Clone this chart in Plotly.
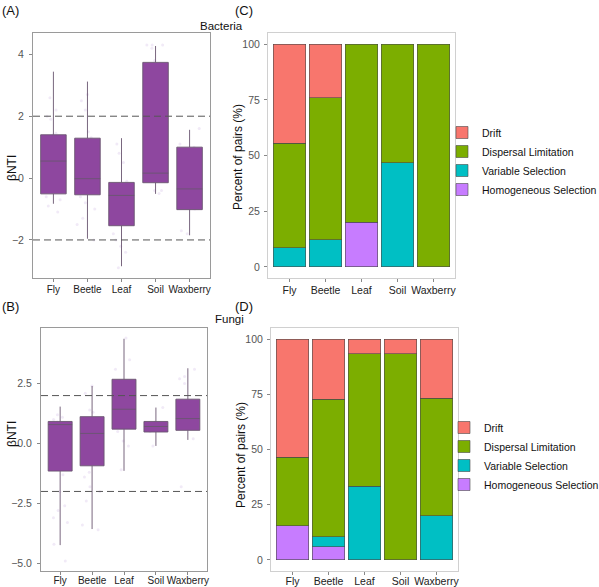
import plotly.graph_objects as go

CATS = ["Fly", "Beetle", "Leaf", "Soil", "Waxberry"]

# ---- Bacteria betaNTI box statistics ----
BAC_Q1 = [-0.51, -0.54, -1.54, -0.15, -1.02]
BAC_MED = [0.55, -0.02, -0.56, 0.16, -0.35]
BAC_Q3 = [1.40, 1.29, -0.14, 3.74, 1.00]
BAC_LO = [-0.83, -1.96, -2.85, -0.51, -1.85]
BAC_HI = [3.44, 3.12, 1.29, 4.27, 1.56]

# faint raw points (Bacteria)
BAC_PTS_FLY = [2.6, 2.2, 2.0, 1.9, 1.45, 1.4, 0.9, 0.1, -0.6, -0.7, -0.9, -1.1]
BAC_PTS_BEETLE = [2.7, 2.5, 2.2, 1.5, 1.3, 0.9, -0.5, -0.6, -0.8, -1.0, -1.3, -1.5, -2.0]
BAC_PTS_LEAF = [1.1, 0.8, 0.5, -0.1, -0.5, -1.5, -1.8, -2.0, -2.2, -2.4, -2.9]
BAC_PTS_SOIL = [4.3, 4.3, 4.2, 4.3, 3.8, 2.0, 0.1, -0.4, -0.5, -0.4]
BAC_PTS_WAX = [1.6, 1.1, 1.0, 0.9, -0.3, -1.0, -1.7, -1.8]

# ---- Fungi betaNTI box statistics ----
FUN_Q1 = [-1.15, -0.93, 0.60, 0.48, 0.55]
FUN_MED = [0.79, 0.42, 1.43, 0.71, 1.04]
FUN_Q3 = [0.92, 1.12, 2.68, 0.92, 1.85]
FUN_LO = [-4.24, -3.57, -1.14, -0.10, 0.15]
FUN_HI = [1.54, 2.40, 4.37, 1.50, 3.14]

FUN_PTS_FLY = [1.2, 1.1, 1.0, 0.9, -1.3, -2.0, -2.6, -2.8, -3.1, -3.3, -4.2, -4.9]
FUN_PTS_BEETLE = [2.4, 2.1, 1.4, 1.3, 0.6, -0.8, -1.2, -1.4, -1.8, -2.0, -2.4, -3.4, -3.6]
FUN_PTS_LEAF = [4.4, 3.5, 3.1, 2.2, 1.9, 0.5, 0.1, -0.1, -1.1]
FUN_PTS_SOIL = [1.5, 0.9, 0.8, 0.5, -0.1]
FUN_PTS_WAX = [3.1, 2.8, 2.7, 2.5, 0.9, 0.2, -1.8]

THRESHOLDS = [2, -2]

# ---- Percent of pairs by process ----
PROCESSES = ["Homogeneous Selection", "Variable Selection", "Dispersal Limitation", "Drift"]
PROC_COLORS = ["#C77CFF", "#00BFC4", "#7CAE00", "#F8766D"]

BAC_HOMO = [0, 0, 20.0, 0, 0]
BAC_VAR = [8.6, 12.1, 0, 46.7, 0]
BAC_DISP = [47.0, 63.8, 80.0, 53.3, 100.0]
BAC_DRIFT = [44.4, 24.1, 0, 0, 0]

FUN_HOMO = [15.4, 6.0, 0, 0, 0]
FUN_VAR = [0, 4.6, 33.3, 0, 20.0]
FUN_DISP = [31.1, 62.1, 60.0, 93.3, 53.3]
FUN_DRIFT = [53.5, 27.3, 6.7, 6.7, 26.7]

BOX_FILL = "#8E479F"
FONT = "Liberation Sans, Arial, sans-serif"

W, H = 599, 587


def px_x(v):
    return v / W


def px_y(v):
    return 1 - v / H


fig = go.Figure()


def add_box_panel(xa, ya, q1, med, q3, lo, hi, pts_lists):
    xs, ys = [], []
    for cat, pts in zip(CATS, pts_lists):
        xs += [cat] * len(pts)
        ys += pts
    fig.add_trace(go.Box(
        x=xs, y=ys, xaxis=xa, yaxis=ya, boxpoints="all", jitter=0.8, pointpos=0,
        fillcolor="rgba(0,0,0,0)", line=dict(width=0, color="rgba(0,0,0,0)"),
        marker=dict(color="rgba(205,180,225,0.28)", size=3),
        showlegend=False, hoverinfo="skip", width=0.78,
    ))
    fig.add_trace(go.Box(
        x=CATS, q1=q1, median=med, q3=q3, lowerfence=lo, upperfence=hi,
        xaxis=xa, yaxis=ya, fillcolor=BOX_FILL,
        line=dict(color="#6a5670", width=0.9), whiskerwidth=0, width=0.75,
        boxpoints=False, showlegend=False,
    ))


add_box_panel("x", "y", BAC_Q1, BAC_MED, BAC_Q3, BAC_LO, BAC_HI,
              [BAC_PTS_FLY, BAC_PTS_BEETLE, BAC_PTS_LEAF, BAC_PTS_SOIL, BAC_PTS_WAX])
add_box_panel("x2", "y2", FUN_Q1, FUN_MED, FUN_Q3, FUN_LO, FUN_HI,
              [FUN_PTS_FLY, FUN_PTS_BEETLE, FUN_PTS_LEAF, FUN_PTS_SOIL, FUN_PTS_WAX])


def add_bar_panel(xa, ya, series, legend):
    for name, color, vals in zip(PROCESSES, PROC_COLORS, series):
        fig.add_trace(go.Bar(
            x=CATS, y=[v if v else None for v in vals], name=name, xaxis=xa, yaxis=ya,
            marker=dict(color=color, line=dict(color="#4a4a4a", width=0.6)),
            width=0.9, legend=legend,
        ))


add_bar_panel("x3", "y3", [BAC_HOMO, BAC_VAR, BAC_DISP, BAC_DRIFT], "legend")
add_bar_panel("x4", "y4", [FUN_HOMO, FUN_VAR, FUN_DISP, FUN_DRIFT], "legend2")

for t in THRESHOLDS:
    for ya, xa in (("y", "x"), ("y2", "x2")):
        fig.add_shape(type="line", xref=f"{xa} domain", x0=0, x1=1, yref=ya, y0=t, y1=t,
                      line=dict(color="#555555", width=1, dash="7px,4px"))

tick_font_y = dict(family=FONT, size=10.5, color="#555555")
tick_font_x = dict(family=FONT, size=10.5, color="#222222")
tick_font_x_box = dict(family=FONT, size=10, color="#222222")

xcommon = dict(type="category", range=[-0.6, 4.6], showgrid=False, zeroline=False,
               showline=True, mirror=True, ticks="outside", ticklen=3, tickcolor="#888888",
               tickangle=0, categoryorder="array", categoryarray=CATS, automargin=False)
ycommon = dict(showgrid=False, zeroline=False, showline=True, mirror=True, ticks="outside",
               ticklen=3, tickcolor="#888888", tickfont=tick_font_y, automargin=False)

legend_font = dict(family=FONT, size=10.5, color="#111111")

fig.update_layout(
    width=W, height=H, margin=dict(l=0, r=0, t=0, b=0, autoexpand=False),
    paper_bgcolor="white", plot_bgcolor="white",
    barmode="stack", boxmode="overlay",
    font=dict(family=FONT, color="#111111"),
    xaxis=dict(domain=[px_x(33), px_x(210)], anchor="y", linecolor="#9a9a9a",
               tickfont=tick_font_x_box, ticklabelstandoff=-1, **xcommon),
    yaxis=dict(domain=[px_y(278), px_y(33)], anchor="x", range=[-3.23, 4.69],
               tickvals=[-2, 0, 2, 4], linecolor="#9a9a9a", ticklabelstandoff=3, **ycommon),
    xaxis2=dict(domain=[px_x(41), px_x(207)], anchor="y2", linecolor="#9a9a9a",
                tickfont=tick_font_x_box, ticklabelstandoff=-3, **xcommon),
    yaxis2=dict(domain=[px_y(571), px_y(328)], anchor="x2", range=[-5.32, 4.82],
                tickvals=[-5, -2.5, 0, 2.5], tickformat=".1f", linecolor="#9a9a9a",
                ticklabelstandoff=3, **ycommon),
    xaxis3=dict(domain=[px_x(268), px_x(455)], anchor="y3", linecolor="#d0d0d0",
                tickfont=tick_font_x, ticklabelstandoff=-1, **xcommon),
    yaxis3=dict(domain=[px_y(278), px_y(33)], anchor="x3", range=[-5, 105],
                tickvals=[0, 25, 50, 75, 100], linecolor="#d0d0d0", ticklabelstandoff=2,
                **ycommon),
    xaxis4=dict(domain=[px_x(271), px_x(458)], anchor="y4", linecolor="#d0d0d0",
                tickfont=tick_font_x, ticklabelstandoff=-3, **xcommon),
    yaxis4=dict(domain=[px_y(571), px_y(328)], anchor="x4", range=[-5, 105],
                tickvals=[0, 25, 50, 75, 100], linecolor="#d0d0d0", ticklabelstandoff=2,
                **ycommon),
    legend=dict(x=px_x(442), y=px_y(161), xanchor="left", yanchor="middle",
                traceorder="reversed", font=legend_font,
                bgcolor="rgba(0,0,0,0)", tracegroupgap=0),
    legend2=dict(x=px_x(444), y=px_y(456), xanchor="left", yanchor="middle",
                 traceorder="reversed", font=legend_font,
                 bgcolor="rgba(0,0,0,0)", tracegroupgap=0),
)

ann = [
    ("(A)", 10, 10, 13, 0),
    ("(C)", 244, 10, 13, 0),
    ("(B)", 10, 306, 13, 0),
    ("(D)", 244, 306, 13, 0),
    ("Bacteria", 221, 26, 11.5, 0),
    ("Fungi", 229, 319, 11.5, 0),
    ("βNTI", 12, 168, 12, -90),
    ("βNTI", 12, 434, 12, -90),
    ("Percent of pairs (%)", 238, 157, 12, -90),
    ("Percent of pairs (%)", 241, 455, 12, -90),
]
for text, x, y, size, ang in ann:
    fig.add_annotation(text=text, xref="paper", yref="paper", x=px_x(x), y=px_y(y),
                       xanchor="center", yanchor="middle", showarrow=False, textangle=ang,
                       font=dict(family=FONT, size=size, color="#111111"))

fig.write_html(
    "out.html",
    config=dict(displayModeBar=False),
    post_script="document.body.style.margin='0';document.body.style.overflow='hidden';",
)
